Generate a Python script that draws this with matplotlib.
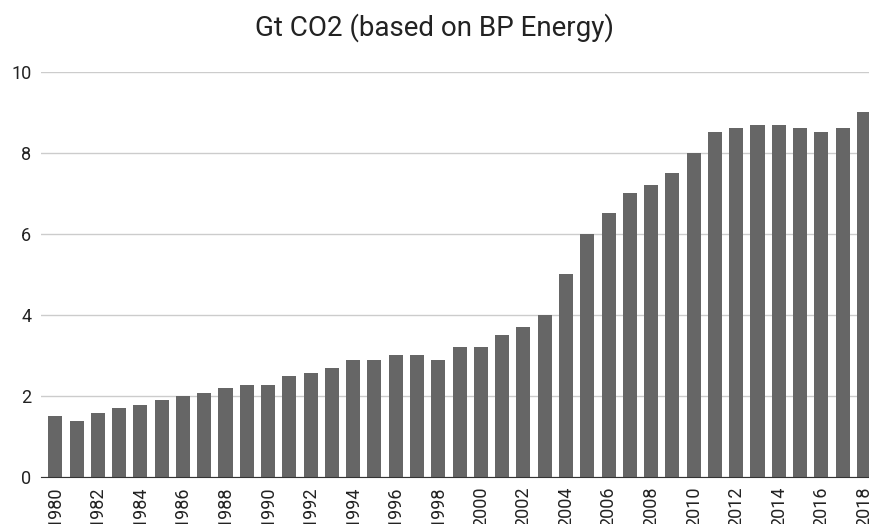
import numpy as np
import matplotlib
matplotlib.use('Agg')
import matplotlib.pyplot as plt

years = list(range(1980, 2019))
gt_co2 = [1.5, 1.39, 1.59, 1.7, 1.78, 1.89, 2.0, 2.08, 2.2, 2.28,
          2.28, 2.5, 2.58, 2.7, 2.9, 2.9, 3.0, 3.0, 2.9, 3.21,
          3.21, 3.51, 3.71, 4.0, 5.0, 6.0, 6.52, 7.01, 7.2, 7.51,
          8.0, 8.51, 8.62, 8.7, 8.7, 8.62, 8.51, 8.62, 9.01]
y_ticks = [0, 2, 4, 6, 8, 10]

plt.rcParams['font.family'] = ['Roboto', 'DejaVu Sans']

fig = plt.figure(figsize=(8.69, 5.24), dpi=100)
ax = fig.add_axes([0.0472, 0.0897, 0.9528, 0.7729])

x = np.arange(len(years))
ax.bar(x, gt_co2, width=0.66, color='#666666', zorder=3)

ax.set_ylim(0, 10)
ax.set_xlim(-0.67, 38.24)
ax.set_yticks(y_ticks)
ax.set_yticklabels([str(t) for t in y_ticks])
ax.yaxis.grid(True, color='#cccccc', linewidth=1, zorder=0)

ax.set_xticks(x[::2])
ax.set_xticklabels([str(y) for y in years[::2]], rotation=90, va='top')

for s in ['top', 'right', 'left']:
    ax.spines[s].set_visible(False)
ax.spines['bottom'].set_color('#333333')
ax.spines['bottom'].set_zorder(4)
ax.tick_params(axis='both', length=0, labelsize=13, colors='#222222')
ax.tick_params(axis='y', pad=7)
ax.tick_params(axis='x', pad=7)

fig.suptitle('Gt CO2 (based on BP Energy)', fontsize=20, color='#222222', y=0.975)

fig.savefig('out.png', dpi=100)
